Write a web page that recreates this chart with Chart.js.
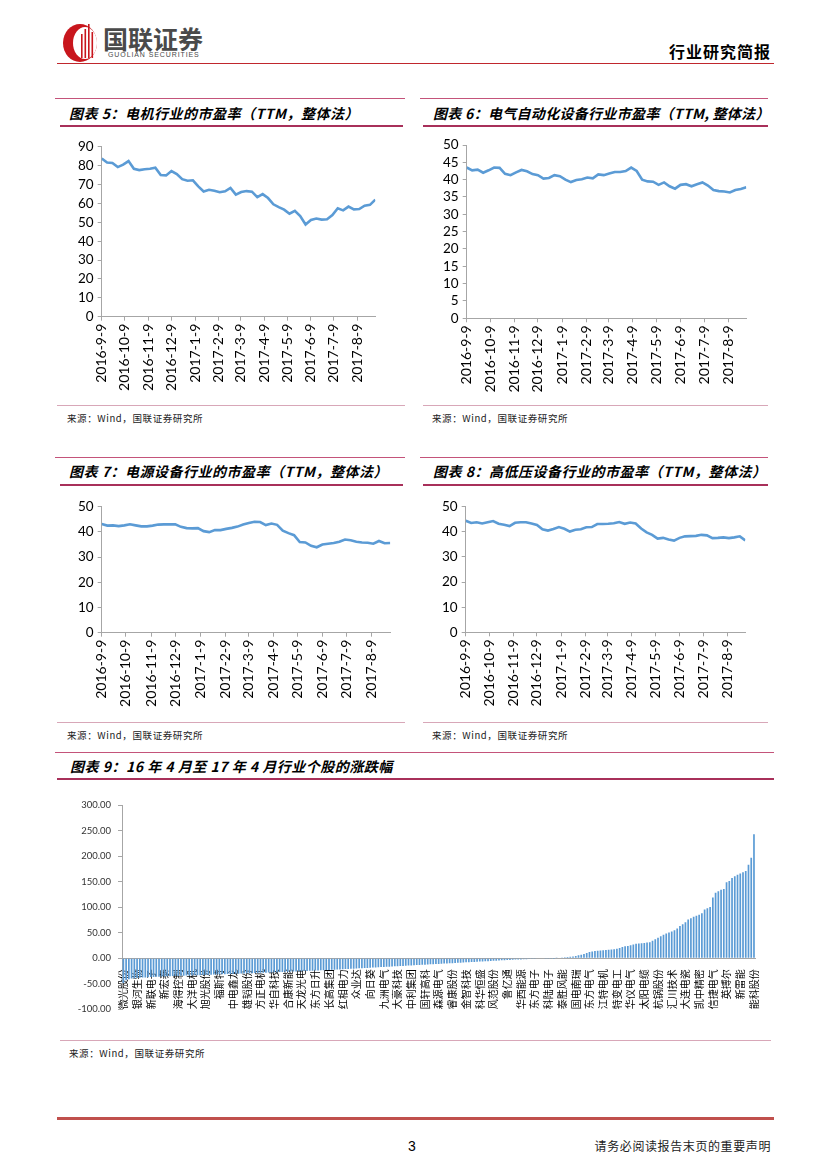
<!DOCTYPE html>
<html>
<head>
<meta charset="utf-8">
<script src="https://cdn.jsdelivr.net/npm/chart.js@4.4.1/dist/chart.umd.min.js"></script>
<style>
  body { margin: 0; background: #fff; }
  #page { position: relative; width: 827px; height: 1169px; overflow: hidden; background: #fff; font-family: "Noto Sans CJK SC", sans-serif; }
  .abs { position: absolute; }
  .rule { position: absolute; height: 0; }
  .title { position: absolute; font-weight: 700; font-style: italic; font-size: 14px; letter-spacing: 0.5px; color: #000; line-height: 16px; white-space: nowrap; }
  .source { position: absolute; font-size: 9.5px; color: #222; letter-spacing: 0.6px; line-height: 12px; white-space: nowrap; }
  canvas { position: absolute; }
</style>
</head>
<body>
<div id="page">
  <!-- header -->
  <svg class="abs" style="left:60px;top:20px" width="44" height="44" viewBox="0 0 44 44">
    <ellipse cx="20" cy="23" rx="17" ry="19" fill="#C8161D"/>
    <ellipse cx="25" cy="23" rx="12" ry="16" fill="#fff"/>
    <rect x="21" y="14" width="1.6" height="24" fill="#C8161D"/>
    <rect x="24.5" y="9" width="1.6" height="29" fill="#C8161D"/>
    <rect x="28" y="4" width="1.6" height="34" fill="#C8161D"/>
    <rect x="31.5" y="12" width="1.6" height="26" fill="#C8161D"/>
  </svg>
  <div class="abs" style="left:103px;top:22px;font-size:25px;font-weight:700;color:#4a4a4a;letter-spacing:0px;line-height:32px">国联证券</div>
  <div class="abs" style="left:108px;top:51px;font-size:7px;font-family:'Liberation Sans',sans-serif;color:#4a4a4a;letter-spacing:0.9px;line-height:8px">GUOLIAN SECURITIES</div>
  <div class="abs" style="right:56px;top:41px;font-size:16px;font-weight:700;color:#000;letter-spacing:1px;line-height:20px">行业研究简报</div>
  <div class="rule" style="left:57px;top:63px;width:717px;border-top:1.5px solid #C0272D"></div>

  <!-- chart 5 / 6 titles -->
  <div class="rule" style="left:55px;top:98px;width:350px;border-top:1px solid #C4537A"></div>
  <div class="rule" style="left:60px;top:125px;width:343px;border-top:2px solid #A8305A"></div>
  <div class="title" style="left:69px;top:105px">图表 5：电机行业的市盈率（TTM，整体法）</div>
  <div class="rule" style="left:420px;top:98px;width:348px;border-top:1px solid #C4537A"></div>
  <div class="rule" style="left:423px;top:125px;width:345px;border-top:2px solid #A8305A"></div>
  <div class="title" style="left:433px;top:105px;letter-spacing:0.3px">图表 6：电气自动化设备行业市盈率（TTM, 整体法）</div>

  <canvas id="c5" width="335" height="272" style="left:57px;top:132px"></canvas>
  <canvas id="c6" width="355" height="272" style="left:420px;top:132px"></canvas>

  <div class="rule" style="left:57px;top:405px;width:348px;border-top:1px solid #D8A7B8"></div>
  <div class="source" style="left:67px;top:412px">来源：Wind，国联证券研究所</div>
  <div class="rule" style="left:423px;top:405px;width:345px;border-top:1px solid #D8A7B8"></div>
  <div class="source" style="left:432px;top:412px">来源：Wind，国联证券研究所</div>

  <!-- chart 7 / 8 titles -->
  <div class="rule" style="left:55px;top:457px;width:350px;border-top:1px solid #C4537A"></div>
  <div class="rule" style="left:60px;top:484px;width:343px;border-top:2px solid #A8305A"></div>
  <div class="title" style="left:69px;top:463px">图表 7：电源设备行业的市盈率（TTM，整体法）</div>
  <div class="rule" style="left:420px;top:457px;width:348px;border-top:1px solid #C4537A"></div>
  <div class="rule" style="left:423px;top:484px;width:345px;border-top:2px solid #A8305A"></div>
  <div class="title" style="left:433px;top:463px">图表 8：高低压设备行业的市盈率（TTM，整体法）</div>

  <canvas id="c7" width="345" height="228" style="left:57px;top:492px"></canvas>
  <canvas id="c8" width="355" height="228" style="left:420px;top:492px"></canvas>

  <div class="rule" style="left:57px;top:722px;width:348px;border-top:1px solid #D8A7B8"></div>
  <div class="source" style="left:67px;top:729px">来源：Wind，国联证券研究所</div>
  <div class="rule" style="left:423px;top:722px;width:345px;border-top:1px solid #D8A7B8"></div>
  <div class="source" style="left:432px;top:729px">来源：Wind，国联证券研究所</div>

  <!-- chart 9 -->
  <div class="rule" style="left:55px;top:752px;width:719px;border-top:1px solid #C4537A"></div>
  <div class="rule" style="left:57px;top:778px;width:717px;border-top:2px solid #A8305A"></div>
  <div class="title" style="left:70px;top:758px">图表 9：16 年 4 月至 17 年 4 月行业个股的涨跌幅</div>

  <canvas id="c9" width="720" height="232" style="left:57px;top:790px"></canvas>

  <div class="rule" style="left:60px;top:1040px;width:711px;border-top:1px solid #D8A7B8"></div>
  <div class="source" style="left:69px;top:1047px">来源：Wind，国联证券研究所</div>

  <!-- footer -->
  <div class="rule" style="left:57px;top:1117px;width:717px;border-top:3px solid #C0504D"></div>
  <div class="abs" style="left:408px;top:1137px;font-size:14px;font-family:'Liberation Sans',sans-serif;color:#000;line-height:18px">3</div>
  <div class="abs" style="right:56px;top:1138px;font-size:12px;color:#222;letter-spacing:0.6px;line-height:16px">请务必阅读报告末页的重要声明</div>
</div>

<script>
// weekly observation dates (x values of the P/E series)
const weekDates = [
  "2016-9-9", "2016-9-16", "2016-9-23", "2016-9-30", "2016-10-7", "2016-10-14", "2016-10-21", "2016-10-28",
  "2016-11-4", "2016-11-11", "2016-11-18", "2016-11-25", "2016-12-2", "2016-12-9", "2016-12-16", "2016-12-23",
  "2016-12-30", "2017-1-6", "2017-1-13", "2017-1-20", "2017-1-27", "2017-2-3", "2017-2-10", "2017-2-17",
  "2017-2-24", "2017-3-3", "2017-3-10", "2017-3-17", "2017-3-24", "2017-3-31", "2017-4-7", "2017-4-14",
  "2017-4-21", "2017-4-28", "2017-5-5", "2017-5-12", "2017-5-19", "2017-5-26", "2017-6-2", "2017-6-9",
  "2017-6-16", "2017-6-23", "2017-6-30", "2017-7-7", "2017-7-14", "2017-7-21", "2017-7-28", "2017-8-4",
  "2017-8-11", "2017-8-18", "2017-8-25", "2017-9-1"
];

// axis tick labels of the P/E charts
const monthTicks = [
  "2016-9-9", "2016-10-9", "2016-11-9", "2016-12-9", "2017-1-9", "2017-2-9",
  "2017-3-9", "2017-4-9", "2017-5-9", "2017-6-9", "2017-7-9", "2017-8-9"
];

// 图表5 电机
const peMotor = [
  83.8, 81.6, 81.4, 79.2, 80.5, 82.4, 78.3, 77.6, 78.1, 78.3,
  78.9, 75.0, 74.8, 77.1, 75.5, 72.8, 72.0, 72.2, 69.0, 66.3,
  67.2, 66.7, 65.9, 66.4, 68.2, 64.6, 66.0, 66.5, 66.2, 63.3,
  64.9, 62.8, 59.5, 58.0, 56.7, 54.5, 56.0, 53.3, 48.8, 51.2,
  52.0, 51.4, 51.6, 53.8, 57.4, 56.3, 58.3, 56.8, 57.0, 58.8,
  59.2, 62.0
];

// 图表6 电气自动化设备
const peAutomation = [
  43.5, 42.7, 42.9, 42.0, 42.7, 43.5, 43.4, 41.7, 41.3, 42.1,
  42.8, 42.4, 41.6, 41.3, 40.3, 40.5, 41.3, 41.0, 40.0, 39.3,
  39.9, 40.1, 40.6, 40.4, 41.5, 41.3, 41.8, 42.2, 42.2, 42.5,
  43.5, 42.5, 40.0, 39.5, 39.4, 38.5, 39.2, 38.1, 37.4, 38.5,
  38.7, 38.1, 38.7, 39.2, 38.3, 37.0, 36.7, 36.6, 36.3, 37.0,
  37.3, 37.8
];

// 图表7 电源设备
const pePower = [
  43.1, 42.5, 42.6, 42.3, 42.6, 43.0, 42.6, 42.2, 42.2, 42.5,
  42.9, 43.0, 43.0, 43.0, 42.0, 41.5, 41.4, 41.5, 40.3, 39.9,
  40.7, 40.7, 41.2, 41.6, 42.1, 42.9, 43.5, 44.0, 43.9, 42.7,
  43.3, 42.8, 40.5, 39.5, 38.7, 36.0, 35.8, 34.5, 33.9, 35.0,
  35.3, 35.6, 36.1, 37.0, 36.7, 36.1, 35.8, 35.7, 35.3, 36.4,
  35.5, 35.6
];

// 图表8 高低压设备
const peSwitchgear = [
  44.4, 43.5, 43.8, 43.3, 43.8, 44.3, 43.2, 42.8, 42.3, 43.6,
  43.8, 43.8, 43.3, 42.7, 41.0, 40.5, 41.1, 41.9, 41.2, 40.1,
  40.8, 41.0, 41.8, 41.9, 43.1, 43.1, 43.2, 43.4, 43.9, 43.2,
  43.7, 43.3, 41.3, 39.8, 38.8, 37.3, 37.6, 36.9, 36.5, 37.6,
  38.2, 38.3, 38.4, 38.8, 38.6, 37.5, 37.6, 37.8, 37.5, 37.8,
  38.2, 36.6
];

// 图表9: names shown on the axis (every fifth stock)
const stockNames = [
  "微光股份", "银河生物", "新联电子", "新宏泰", "海得控制", "大洋电机", "旭光股份", "福斯特",
  "中电鑫龙", "雄韬股份", "方正电机", "华自科技", "合康新能", "天龙光电", "东方日升", "长高集团",
  "红相电力", "众业达", "向日葵", "九洲电气", "大豪科技", "中利集团", "国轩高科", "森源电气",
  "睿康股份", "金智科技", "科华恒盛", "风范股份", "鲁亿通", "华西能源", "东方电子", "科陆电子",
  "泰胜风能", "国电南瑞", "东方电气", "江特电机", "特变电工", "华仪电气", "太阳电缆", "杭锅股份",
  "汇川技术", "大连电瓷", "凯中精密", "信捷电气", "英搏尔", "新雷能", "能科股份"
];
const labelEvery = 5;

// 图表9: change (%) of each stock, sorted
const barChange = [
  -48.5, -43.2, -41.0, -39.8, -39.1, -38.7, -38.2, -37.9, -37.6, -37.2,
  -36.9, -36.7, -36.3, -36.1, -35.8, -35.6, -35.5, -35.2, -35.0, -34.9,
  -34.6, -34.4, -34.3, -34.0, -33.8, -33.7, -33.4, -33.2, -33.1, -32.8,
  -32.6, -32.5, -32.2, -32.0, -31.9, -31.6, -31.4, -31.3, -31.0, -30.8,
  -30.7, -30.4, -30.2, -30.1, -29.8, -29.6, -29.5, -29.2, -29.0, -28.9,
  -28.6, -28.4, -28.3, -28.0, -27.8, -27.6, -27.4, -27.1, -26.9, -26.6,
  -26.4, -26.2, -26.0, -25.8, -25.6, -25.3, -25.1, -24.8, -24.6, -24.3,
  -24.1, -23.9, -23.6, -23.4, -23.1, -22.9, -22.6, -22.4, -22.1, -21.9,
  -21.6, -21.3, -21.0, -20.7, -20.4, -20.1, -19.8, -19.5, -19.2, -18.9,
  -18.6, -18.3, -18.0, -17.7, -17.4, -17.1, -16.8, -16.5, -16.2, -15.9,
  -15.6, -15.3, -15.0, -14.7, -14.4, -14.1, -13.8, -13.5, -13.2, -12.9,
  -12.6, -12.3, -12.0, -11.7, -11.4, -11.1, -10.8, -10.5, -10.2, -9.9,
  -9.6, -9.3, -9.0, -8.7, -8.4, -8.1, -7.8, -7.5, -7.2, -6.9,
  -6.6, -6.3, -6.0, -5.7, -5.4, -5.1, -4.8, -4.5, -4.2, -3.9,
  -3.6, -3.3, -3.0, -2.7, -2.5, -2.3, -2.1, -1.9, -1.7, -1.5,
  -1.3, -1.1, -0.9, -0.8, -0.6, -0.5, -0.3, -0.1,
  0.3, 0.8, 1.4, 2.0, 2.5, 3.0, 3.5, 4.4, 5.6, 7.0,
  8.2, 10.1, 12.0, 13.1, 14.0, 14.6, 15.1, 15.5, 16.0, 16.4,
  17.0, 17.6, 18.5, 20.2, 22.0, 23.4, 24.1, 25.2, 27.0, 28.4,
  29.0, 29.5, 30.0, 30.6, 31.3, 34.2, 37.0, 40.1, 43.0, 46.0,
  48.2, 50.3, 52.4, 55.0, 58.3, 63.0, 66.4, 70.5, 76.0, 78.3,
  81.0, 83.2, 85.1, 88.0, 95.5, 98.0, 100.2, 119.0, 128.0, 131.2,
  134.0, 135.5, 148.6, 151.0, 157.2, 160.5, 163.4, 165.8, 168.4, 171.0,
  183.0, 196.5, 242.5
];

const BLUE = "#5B9BD5";
const AXIS = "#A6A6A6";
const LATIN = "Lato, 'Noto Sans CJK SC', sans-serif";

Chart.defaults.font.family = LATIN;
Chart.defaults.animation = false;

function dayOf(s) {
  const p = s.split("-").map(Number);
  return (Date.UTC(p[0], p[1] - 1, p[2]) - Date.UTC(2016, 8, 9)) / 86400000;
}

const lastDay = dayOf(weekDates[weekDates.length - 1]);

// box: canvas rect on the page + plot area edges on the page
function lineChart(id, values, yMax, yStep, box) {
  new Chart(document.getElementById(id), {
    type: "line",
    data: {
      datasets: [{
        data: weekDates.map((d, i) => ({x: dayOf(d), y: values[i]})),
        borderColor: BLUE,
        borderWidth: 2.6,
        pointRadius: 0,
        tension: 0,
        fill: false,
      }],
    },
    options: {
      responsive: false,
      layout: {padding: {top: box.t - box.y, right: box.x + box.w - box.r, left: 0, bottom: 0}},
      plugins: {legend: {display: false}, tooltip: {enabled: false}},
      scales: {
        x: {
          type: "linear",
          min: 0,
          max: lastDay,
          afterBuildTicks: (s) => { s.ticks = monthTicks.map((t) => ({value: dayOf(t)})); },
          afterFit: (s) => { s.height = box.y + box.h - box.b; },
          ticks: {
            callback: (v, i) => monthTicks[i],
            autoSkip: false,
            minRotation: 90,
            maxRotation: 90,
            font: {size: 14},
            color: "#000",
            padding: 3,
          },
          grid: {drawOnChartArea: false, tickLength: 4, color: AXIS},
          border: {color: AXIS},
        },
        y: {
          min: 0,
          max: yMax,
          afterFit: (s) => { s.width = box.l - box.x; },
          ticks: {stepSize: yStep, autoSkip: false, maxTicksLimit: 20, font: {size: 13.5}, color: "#000", padding: 4},
          grid: {drawOnChartArea: false, tickLength: 4, color: AXIS},
          border: {color: AXIS},
        },
      },
    },
  });
}

function plotRight(l, tickAug9) {
  return l + (tickAug9 - l) * lastDay / dayOf("2017-8-9");
}

lineChart("c5", peMotor, 90, 10, {x: 57, y: 132, w: 335, h: 272, l: 101.7, t: 146.7, b: 316.7, r: plotRight(101.7, 357.7)});
lineChart("c6", peAutomation, 50, 5, {x: 420, y: 132, w: 355, h: 272, l: 466.7, t: 145, b: 318.3, r: plotRight(466.7, 728.3)});
lineChart("c7", pePower, 50, 10, {x: 57, y: 492, w: 345, h: 228, l: 101.7, t: 506.7, b: 632.7, r: plotRight(101.7, 371.7)});
lineChart("c8", peSwitchgear, 50, 10, {x: 420, y: 492, w: 355, h: 228, l: 465.7, t: 506.7, b: 632.3, r: plotRight(465.7, 727.3)});

// bar chart of stock changes
const barBox = {x: 57, y: 790, w: 720, h: 232, l: 122, t: 805, b: 1011, r: 764.2};
new Chart(document.getElementById("c9"), {
  type: "bar",
  data: {
    labels: barChange.map((v, i) => (i % labelEvery === 0 ? stockNames[i / labelEvery] : "")),
    datasets: [{
      data: barChange,
      backgroundColor: BLUE,
      barPercentage: 0.62,
      categoryPercentage: 1,
    }],
  },
  options: {
    responsive: false,
    layout: {padding: {top: barBox.t - barBox.y, right: barBox.x + barBox.w - barBox.r, left: 0, bottom: barBox.y + barBox.h - barBox.b}},
    plugins: {legend: {display: false}, tooltip: {enabled: false}},
    scales: {
      x: {
        position: {y: 0},
        z: 1,
        afterFit: (s) => { s.height = 0; },
        ticks: {
          autoSkip: false,
          minRotation: 90,
          maxRotation: 90,
          font: {size: 10, family: "'Noto Sans CJK SC', sans-serif"},
          color: "#000",
          padding: 11,
        },
        grid: {drawOnChartArea: false, drawTicks: false, color: AXIS},
        border: {color: AXIS},
      },
      y: {
        min: -100,
        max: 300,
        afterFit: (s) => { s.width = barBox.l - barBox.x; },
        ticks: {stepSize: 50, autoSkip: false, callback: (v) => v.toFixed(2), font: {size: 9.5}, color: "#333", padding: 7},
        grid: {drawOnChartArea: false, tickLength: 4, color: AXIS},
        border: {color: AXIS},
      },
    },
  },
});
</script>
</body>
</html>
